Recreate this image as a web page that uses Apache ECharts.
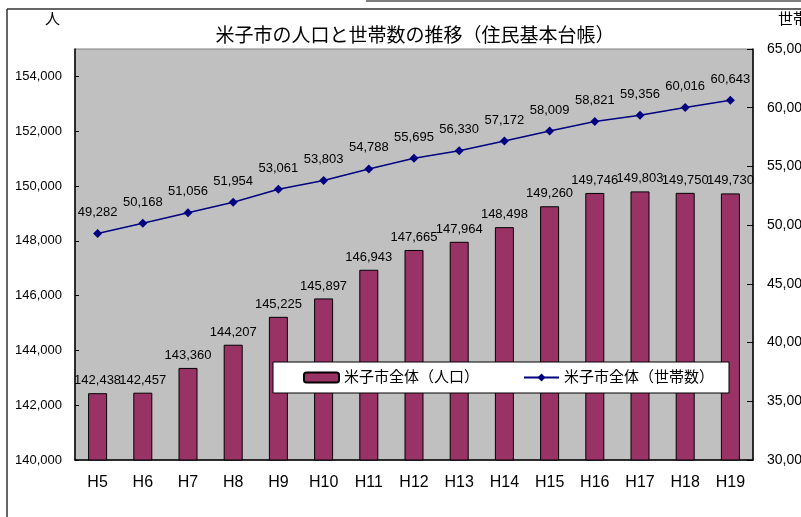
<!DOCTYPE html>
<html>
<head>
<meta charset="utf-8">
<script src="https://cdn.jsdelivr.net/npm/echarts@6/dist/echarts.min.js"></script>
<style>
  html, body { margin: 0; padding: 0; background: #fff; }
  #main { width: 801px; height: 517px; }
</style>
</head>
<body>
<div id="main"></div>
<script>
// 年度（平成）
var years = ['H5', 'H6', 'H7', 'H8', 'H9', 'H10', 'H11', 'H12', 'H13', 'H14', 'H15', 'H16', 'H17', 'H18', 'H19'];
// 人口
var population = [142438, 142457, 143360, 144207, 145225, 145897, 146943, 147665, 147964, 148498, 149260, 149746, 149803, 149750, 149730];
// 世帯数
var households = [49282, 50168, 51056, 51954, 53061, 53803, 54788, 55695, 56330, 57172, 58009, 58821, 59356, 60016, 60643];

var font = '"Liberation Sans", "Noto Sans CJK JP", sans-serif';
var fmt = function (v) { return Number(v).toLocaleString('en-US'); };

var myChart = echarts.init(document.getElementById('main'));
var o = {
  backgroundColor: '#fff',
  textStyle: { fontFamily: font, color: '#000' },
  title: {
    text: '米子市の人口と世帯数の推移（住民基本台帳）',
    left: 410,
    top: 22,
    textAlign: 'center',
    textStyle: { fontFamily: font, fontSize: 19, fontWeight: 'normal', color: '#000' }
  },
  legend: {
    left: 273,
    top: 362,
    selectedMode: false,
    backgroundColor: '#fff',
    borderColor: '#000',
    borderWidth: 1,
    borderRadius: 0,
    padding: [8, 15, 8, 30],
    itemGap: 44,
    itemWidth: 35,
    itemHeight: 10,
    textStyle: { fontFamily: font, fontSize: 15, color: '#000' },
    data: ['米子市全体（人口）', '米子市全体（世帯数）']
  },
  grid: {
    left: 75, right: 48, top: 49, bottom: 57,
    outerBoundsMode: 'none',
    containLabel: false,
    show: true,
    backgroundColor: '#C0C0C0',
    borderColor: '#808080',
    borderWidth: 1
  },
  xAxis: {
    type: 'category',
    data: years,
    axisLine: { lineStyle: { color: '#000', width: 1.5 } },
    axisTick: { inside: true, length: 4, lineStyle: { color: '#000' } },
    axisLabel: { fontSize: 16, margin: 15, color: '#000' }
  },
  yAxis: [
    {
      type: 'value',
      min: 140000, max: 155000, interval: 2000,
      splitLine: { show: false },
      axisLine: { show: true, lineStyle: { color: '#000', width: 1.5 } },
      axisTick: { show: true, inside: true, length: 4, lineStyle: { color: '#000' } },
      axisLabel: { fontSize: 13, margin: 13, color: '#000', showMaxLabel: false, formatter: fmt }
    },
    {
      type: 'value',
      position: 'right',
      min: 30000, max: 65000, interval: 5000,
      splitLine: { show: false },
      axisLine: { show: true, lineStyle: { color: '#000', width: 1.5 } },
      axisTick: { show: true, inside: true, length: 6, lineStyle: { color: '#000' } },
      axisLabel: { fontSize: 14, margin: 14, color: '#000', formatter: fmt }
    }
  ],
  series: [
    {
      name: '米子市全体（人口）',
      type: 'bar',
      data: population,
      barWidth: 19,
      itemStyle: { color: '#993366', borderColor: '#000', borderWidth: 1 },
      label: { show: true, position: 'top', distance: 6, fontSize: 13, color: '#000', formatter: function (p) { return fmt(p.value); } }
    },
    {
      name: '米子市全体（世帯数）',
      type: 'line',
      yAxisIndex: 1,
      data: households,
      symbol: 'diamond',
      symbolSize: 9,
      lineStyle: { color: '#000080', width: 1.5 },
      itemStyle: { color: '#000080' },
      label: { show: true, position: 'top', distance: 10, fontSize: 13, color: '#000', formatter: function (p) { return fmt(p.value); } }
    }
  ],
  graphic: [
    { type: 'line', shape: { x1: 7, y1: 9, x2: 801, y2: 9 }, style: { stroke: '#333', lineWidth: 1.5 } },
    { type: 'line', shape: { x1: 7, y1: 9, x2: 7, y2: 517 }, style: { stroke: '#333', lineWidth: 1.5 } },
    { type: 'line', shape: { x1: 366, y1: 1, x2: 801, y2: 1 }, style: { stroke: '#555', lineWidth: 1.5 } },
    { type: 'text', left: 45, top: 12, style: { text: '人', font: '15px ' + font, fill: '#000' } },
    { type: 'text', left: 778, top: 12, style: { text: '世帯', font: '15px ' + font, fill: '#000' } }
  ]
};

myChart.setOption(o);
</script>
</body>
</html>
